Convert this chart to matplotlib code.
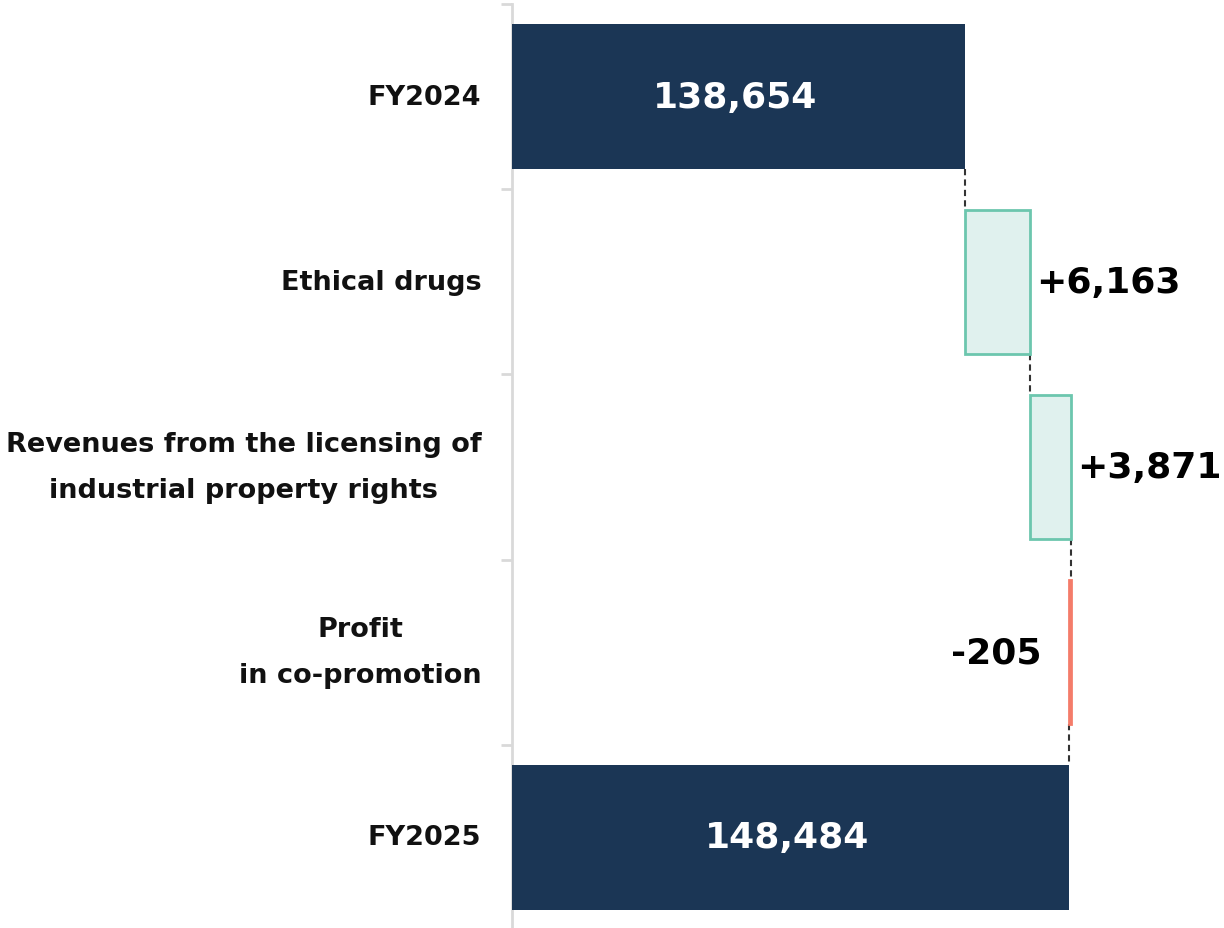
import matplotlib
matplotlib.use("Agg")
from matplotlib import pyplot as plt
import numpy as np

# data
categories = ["FY2024", "Ethical drugs",
              "Revenues from the licensing of\nindustrial property rights",
              "Profit\nin co-promotion", "FY2025"]
values = [138654, 6163, 3871, -205, 148484]
kinds = ["total", "delta", "delta", "delta", "total"]

NAVY = "#1b3655"
UP_FILL, UP_EDGE = "#e0f1ee", "#6cc6ae"
DOWN_EDGE = "#f47c6a"

fig = plt.figure(figsize=(12.24, 9.29), dpi=100)
ax = fig.add_axes([512 / 1224, 1 - 931 / 929, 712 / 1224, 926 / 929])

# waterfall geometry
starts, ends = [], []
run = 0
for v, k in zip(values, kinds):
    if k == "total":
        starts.append(0)
        ends.append(v)
        run = v
    else:
        starts.append(run)
        run = run + v
        ends.append(run)

y = np.arange(len(categories))
h = 0.78
for i, (s, e, v, k) in enumerate(zip(starts, ends, values, kinds)):
    if k == "total":
        ax.barh(i, e, height=h, color=NAVY, zorder=3)
    elif v >= 0:
        ax.barh(i, v, left=s, height=h, color=UP_FILL, edgecolor=UP_EDGE,
                linewidth=2, zorder=3)
    else:
        ax.barh(i, v, left=s, height=h, color=DOWN_EDGE, edgecolor=DOWN_EDGE,
                linewidth=2, zorder=3)

xmin, xmax = 95840, 163120
ax.set_xlim(xmin, xmax)
ax.set_ylim(len(categories) - 0.5, -0.5)

# connectors
for i in range(len(categories) - 1):
    x = ends[i]
    ax.plot([x, x], [i + h / 2, i + 1 - h / 2], color="#333333", lw=1.5,
            ls=(0, (3, 2)), zorder=2)

# value labels
for i, (s, e, v, k) in enumerate(zip(starts, ends, values, kinds)):
    if k == "total":
        ax.text((xmin + e) / 2 - 300, i, f"{v:,}", color="white", fontsize=26,
                fontweight="bold", ha="center", va="center", zorder=4)
    elif v >= 0:
        ax.annotate(f"+{v:,}", (e, i), xytext=(4, 0), textcoords="offset points",
                    fontsize=26, fontweight="bold", ha="left", va="center")
    else:
        ax.annotate(f"{v:,}", (min(s, e), i), xytext=(-20, 0),
                    textcoords="offset points", fontsize=26, fontweight="bold",
                    ha="right", va="center")

# axis styling
for side in ["top", "right", "bottom"]:
    ax.spines[side].set_visible(False)
ax.spines["left"].set_color("#d9d9d9")
ax.spines["left"].set_linewidth(2)
ax.set_xticks([])
ax.set_yticks(y)
ax.set_yticklabels(categories, fontsize=19.5, fontweight="bold", color="#111111",
                   multialignment="center", linespacing=2.0, va="center")
ax.set_yticks(np.arange(-0.5, len(categories)), minor=True)
ax.tick_params(axis="y", which="major", length=0, pad=22)
ax.tick_params(axis="y", which="minor", length=8, width=2, color="#d9d9d9")

fig.savefig("out.png", dpi=100)
